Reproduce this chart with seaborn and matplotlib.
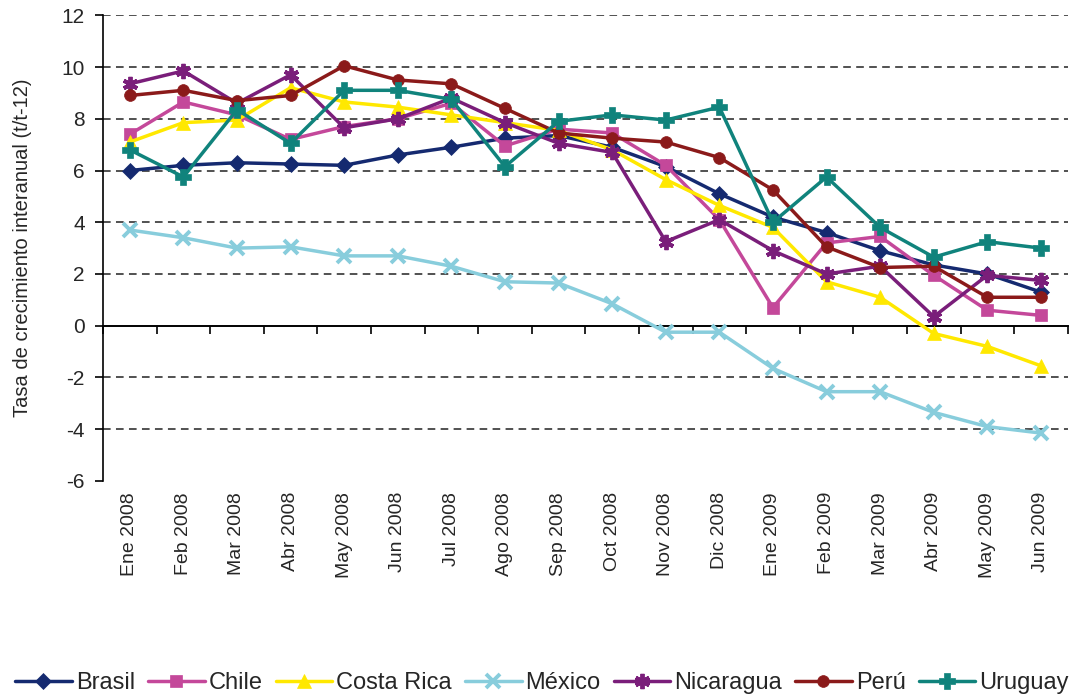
import numpy as np
import pandas as pd
import matplotlib
matplotlib.use('Agg')
import matplotlib.pyplot as plt
import seaborn as sns

# DATA
meses = ['Ene 2008', 'Feb 2008', 'Mar 2008', 'Abr 2008', 'May 2008', 'Jun 2008',
         'Jul 2008', 'Ago 2008', 'Sep 2008', 'Oct 2008', 'Nov 2008', 'Dic 2008',
         'Ene 2009', 'Feb 2009', 'Mar 2009', 'Abr 2009', 'May 2009', 'Jun 2009']

brasil = [6.0, 6.2, 6.3, 6.25, 6.2, 6.6, 6.9, 7.25, 7.35, 6.9, 6.15, 5.1,
          4.2, 3.6, 2.9, 2.35, 2.0, 1.3]
chile = [7.4, 8.65, 8.15, 7.2, 7.7, 8.0, 8.6, 6.95, 7.6, 7.45, 6.2, 4.1,
         0.7, 3.2, 3.45, 1.95, 0.6, 0.4]
costa_rica = [7.1, 7.85, 7.95, 9.2, 8.65, 8.45, 8.15, 7.85, 7.55, 6.8, 5.65, 4.65,
              3.8, 1.7, 1.1, -0.3, -0.8, -1.55]
mexico = [3.7, 3.4, 3.0, 3.05, 2.7, 2.7, 2.3, 1.7, 1.65, 0.85, -0.25, -0.25,
          -1.65, -2.55, -2.55, -3.35, -3.9, -4.15]
nicaragua = [9.35, 9.85, 8.6, 9.7, 7.65, 8.0, 8.8, 7.85, 7.05, 6.7, 3.25, 4.1,
             2.9, 2.0, 2.3, 0.35, 1.95, 1.75]
peru = [8.9, 9.1, 8.7, 8.9, 10.05, 9.5, 9.35, 8.4, 7.45, 7.25, 7.1, 6.5,
        5.25, 3.05, 2.25, 2.3, 1.1, 1.1]
uruguay = [6.8, 5.75, 8.35, 7.05, 9.1, 9.1, 8.75, 6.15, 7.9, 8.15, 7.95, 8.45,
           4.0, 5.75, 3.8, 2.65, 3.25, 3.0]

paises = ['Brasil', 'Chile', 'Costa Rica', 'México', 'Nicaragua', 'Perú', 'Uruguay']
series = [brasil, chile, costa_rica, mexico, nicaragua, peru, uruguay]
colores = ['#152A70', '#C4489A', '#FFE800', '#88CDDC', '#7A1E7A', '#8B1A1A', '#10837C']
marcadores = ['D', 's', '^', 'x', (6, 2, 0), 'o', 'P']
tamanos = [8, 9, 10, 10, 11, 8.5, 11]

df = pd.DataFrame({
    'pais': np.repeat(paises, len(meses)),
    'pos': np.tile(np.arange(len(meses)), len(paises)),
    'valor': np.concatenate(series),
})

# PLOT
sns.set_theme(style='white')
plt.rcParams['font.family'] = ['Liberation Sans', 'DejaVu Sans']
plt.rcParams['axes.unicode_minus'] = False

fig = plt.figure(figsize=(10.84, 6.95), dpi=100)
ax = fig.add_axes([0.095, 0.308, 0.89, 0.67])

for pais, c, m, s in zip(paises, colores, marcadores, tamanos):
    sub = df[df['pais'] == pais]
    filled = m not in ('x',) and not isinstance(m, tuple)
    sns.lineplot(data=sub, x='pos', y='valor', ax=ax, color=c, lw=2.5,
                 marker=m, markersize=s, markeredgecolor=c,
                 markerfacecolor=c if filled else 'none',
                 markeredgewidth=0.5 if filled else 2.8,
                 sort=False, label=pais)

ax.set_xlim(-0.5, len(meses) - 0.5)
ax.set_ylim(-6, 12)
ax.set_yticks(np.arange(-6, 13, 2))
ax.tick_params(axis='y', direction='out', length=6, width=1.2, color='black',
               labelsize=15, pad=7, left=True)
ax.set_xticks(np.arange(len(meses)), labels=meses, rotation=90)
ax.tick_params(axis='x', length=0, labelsize=14, pad=8)

for side in ['top', 'right', 'bottom']:
    ax.spines[side].set_visible(False)
ax.spines['left'].set_color('black')
ax.spines['left'].set_linewidth(1.2)

ax.yaxis.grid(True, linestyle=(0, (5, 3.5)), color='#222222', lw=1.1)
for val, gl in zip(ax.get_yticks(), ax.yaxis.get_gridlines()):
    if val in (0, -6):
        gl.set_visible(False)
ax.set_axisbelow(True)

# eje horizontal en cero con marcas entre categorias
eje0 = ax.secondary_xaxis(6 / 18)
eje0.set_xticks(np.arange(-0.5, len(meses), 1), labels=[''] * (len(meses) + 1))
eje0.tick_params(direction='out', length=6, width=1.2, color='black')
eje0.spines['bottom'].set_color('black')
eje0.spines['bottom'].set_linewidth(1.4)

ax.set_xlabel('')
ax.set_ylabel('Tasa de crecimiento interanual (t/t-12)', fontsize=14.5)
ax.yaxis.set_label_coords(-0.074, 0.5)

ax.legend(loc='lower center', bbox_to_anchor=(0.5, -0.012), bbox_transform=fig.transFigure,
          ncol=7, frameon=False, fontsize=17, handlelength=2.4, handletextpad=0.17,
          columnspacing=0.55, borderaxespad=0.0)

fig.savefig('out.png', dpi=100)
